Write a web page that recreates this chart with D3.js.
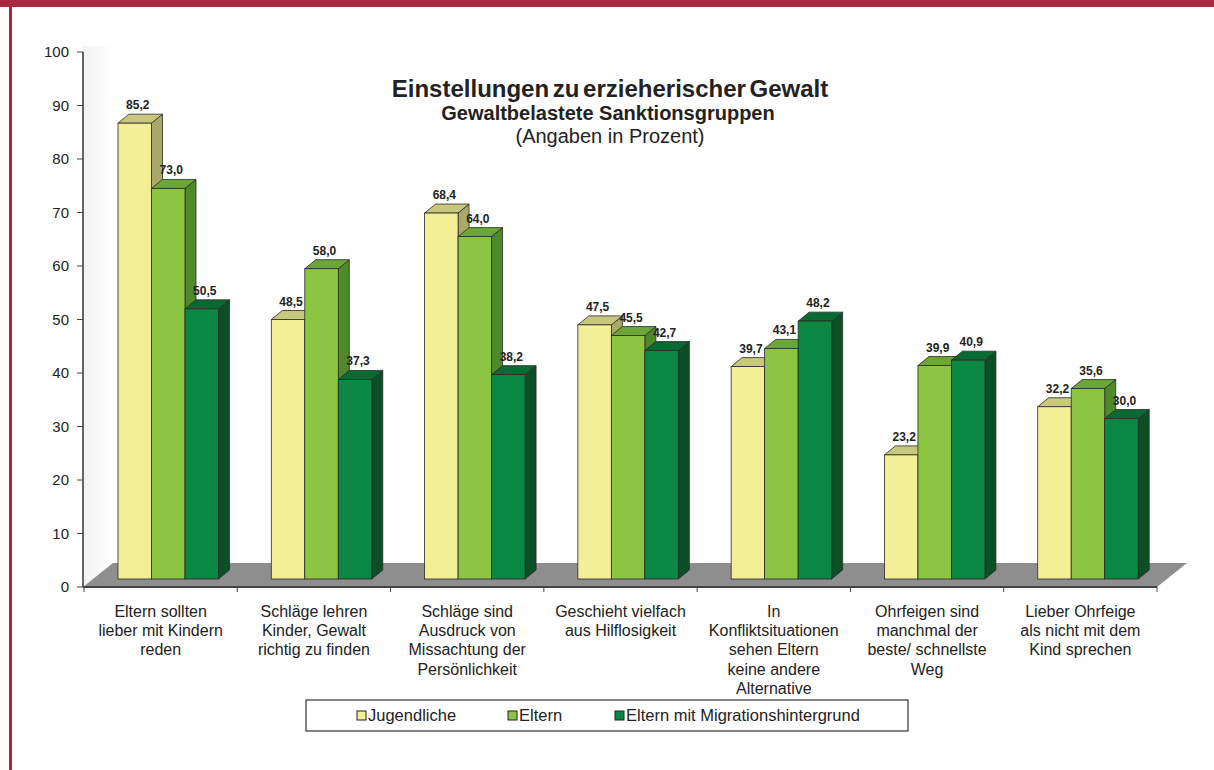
<!DOCTYPE html>
<html>
  <head>
    <meta charset="utf-8">
    <script src="https://cdn.jsdelivr.net/npm/d3@7"></script>
    <style>
      body { margin: 0; background: #fff; }
      text { font-family: "Liberation Sans", Arial, sans-serif; fill: #222; }
    </style>
  </head>
<body>
  <script type="text/javascript">
    // chart data
    var categories = [
      ["Eltern sollten", "lieber mit Kindern", "reden"],
      ["Schläge lehren", "Kinder, Gewalt", "richtig zu finden"],
      ["Schläge sind", "Ausdruck von", "Missachtung der", "Persönlichkeit"],
      ["Geschieht vielfach", "aus Hilflosigkeit"],
      ["In", "Konfliktsituationen", "sehen Eltern", "keine andere", "Alternative"],
      ["Ohrfeigen sind", "manchmal der", "beste/ schnellste", "Weg"],
      ["Lieber Ohrfeige", "als nicht mit dem", "Kind sprechen"]
    ];
    var seriesNames = ["Jugendliche", "Eltern", "Eltern mit Migrationshintergrund"];
    var jugendliche = [85.2, 48.5, 68.4, 47.5, 39.7, 23.2, 32.2];
    var eltern = [73.0, 58.0, 64.0, 45.5, 43.1, 39.9, 35.6];
    var migration = [50.5, 37.3, 38.2, 42.7, 48.2, 40.9, 30.0];
    var yTicks = [0, 10, 20, 30, 40, 50, 60, 70, 80, 90, 100];

    var seriesValues = [jugendliche, eltern, migration];
    // front, top, side
    var colors = [
      ["#f3ef97", "#c9c77e", "#a9a868"],
      ["#8cc541", "#6aa734", "#4f8a2a"],
      ["#0b8744", "#0a6a33", "#0b4f26"]
    ];

    var W = 1214, H = 770;
    var svg = d3.select("body").append("svg")
        .attr("width", W).attr("height", H);

    // frame
    svg.append("rect").attr("x", 0).attr("y", 0).attr("width", W).attr("height", 7).attr("fill", "#a52a40");
    svg.append("rect").attr("x", 9).attr("y", 0).attr("width", 3).attr("height", H).attr("fill", "#a52a40");

    var axisX = 83, y0 = 587;
    var y = d3.scaleLinear().domain([0, 100]).range([y0, 52]);
    var x0 = d3.scaleBand().domain(d3.range(categories.length)).range([84, 1157]);
    var x1 = d3.scaleBand().domain(d3.range(seriesNames.length)).range([34, 34 + 3 * 33.5]);
    var dx = 11, dy = -9, lift = 8;
    var floorDx = 30, floorDy = -24;

    // side wall (very faint)
    var grad = svg.append("defs").append("linearGradient").attr("id", "wall")
        .attr("x1", "0").attr("x2", "1").attr("y1", "0").attr("y2", "0");
    grad.append("stop").attr("offset", "0").attr("stop-color", "#f1f1f1");
    grad.append("stop").attr("offset", "1").attr("stop-color", "#ffffff");
    svg.append("path")
        .attr("d", "M" + axisX + "," + (y(100) - 6) + "L" + (axisX + floorDx) + "," + (y(100) - 6) +
          "L" + (axisX + floorDx) + "," + (y0 + floorDy) + "L" + axisX + "," + y0 + "Z")
        .attr("fill", "url(#wall)");

    // floor
    svg.append("path")
        .attr("d", "M" + axisX + "," + y0 + "L" + (axisX + floorDx) + "," + (y0 + floorDy) +
          "L" + (x0.range()[1] + floorDx) + "," + (y0 + floorDy) + "L" + x0.range()[1] + "," + y0 + "Z")
        .attr("fill", "#8e8e8e");

    // y axis
    svg.append("line").attr("x1", axisX).attr("x2", axisX).attr("y1", y(100)).attr("y2", y0)
        .attr("stroke", "#666").attr("stroke-width", 2);
    var yg = svg.append("g");
    yg.selectAll("line").data(yTicks).enter().append("line")
        .attr("x1", axisX - 6).attr("x2", axisX).attr("y1", function (d) { return y(d); })
        .attr("y2", function (d) { return y(d); }).attr("stroke", "#444");
    yg.selectAll("text").data(yTicks).enter().append("text")
        .attr("x", 69).attr("y", function (d) { return y(d) + 5; })
        .attr("text-anchor", "end").style("font-size", "15px").text(function (d) { return d; });

    // x axis
    svg.append("line").attr("x1", axisX).attr("x2", x0.range()[1]).attr("y1", y0).attr("y2", y0)
        .attr("stroke", "#444").attr("stroke-width", 2);
    svg.selectAll(".xtick").data(d3.range(categories.length + 1)).enter().append("line")
        .attr("x1", function (i) { return 84 + i * x0.step(); })
        .attr("x2", function (i) { return 84 + i * x0.step(); })
        .attr("y1", y0).attr("y2", y0 + 5).attr("stroke", "#444");

    // bars
    var fmt = function (v) { return d3.format(".1f")(v).replace(".", ","); };
    categories.forEach(function (cat, ci) {
      var g = svg.append("g");
      seriesValues.forEach(function (vals, si) {
        var v = vals[ci];
        var left = x0(ci) + x1(si), w = x1.bandwidth();
        var top = y(v) - lift, bottom = y0 - lift;
        var c = colors[si];
        // side
        g.append("path")
          .attr("d", "M" + (left + w) + "," + top + "L" + (left + w + dx) + "," + (top + dy) +
            "L" + (left + w + dx) + "," + (bottom + dy) + "L" + (left + w) + "," + bottom + "Z")
          .attr("fill", c[2]).attr("stroke", "#2a2a2a").attr("stroke-width", 0.8);
        // top
        g.append("path")
          .attr("d", "M" + left + "," + top + "L" + (left + dx) + "," + (top + dy) +
            "L" + (left + w + dx) + "," + (top + dy) + "L" + (left + w) + "," + top + "Z")
          .attr("fill", c[1]).attr("stroke", "#2a2a2a").attr("stroke-width", 0.8);
        // front
        g.append("rect").attr("x", left).attr("y", top).attr("width", w).attr("height", bottom - top)
          .attr("fill", c[0]).attr("stroke", "#2a2a2a").attr("stroke-width", 0.8);
        g.append("text").attr("x", left + w / 2 + 3).attr("y", top - 14)
          .attr("text-anchor", "middle").style("font-size", "12px").style("font-weight", "bold")
          .text(fmt(v));
      });
      // category label
      var t = svg.append("text").attr("x", x0(ci) + x0.bandwidth() / 2).attr("y", 617)
          .attr("text-anchor", "middle").style("font-size", "16px");
      cat.forEach(function (line, li) {
        t.append("tspan").attr("x", x0(ci) + x0.bandwidth() / 2).attr("dy", li === 0 ? 0 : 19.2).text(line);
      });
    });

    // title
    svg.append("text").attr("x", 610).attr("y", 97).attr("text-anchor", "middle")
        .style("font-size", "24px").style("font-weight", "bold").style("word-spacing", "-3px")
        .text("Einstellungen zu erzieherischer Gewalt");
    svg.append("text").attr("x", 608).attr("y", 120).attr("text-anchor", "middle")
        .style("font-size", "20px").style("font-weight", "bold")
        .text("Gewaltbelastete Sanktionsgruppen");
    svg.append("text").attr("x", 610).attr("y", 143).attr("text-anchor", "middle")
        .style("font-size", "20px").text("(Angaben in Prozent)");

    // legend
    var lg = svg.append("g");
    lg.append("rect").attr("x", 306).attr("y", 700).attr("width", 602).attr("height", 31)
        .attr("fill", "#fff").attr("stroke", "#333").attr("stroke-width", 1.2);
    var legX = [357, 508, 615];
    seriesNames.forEach(function (name, si) {
      lg.append("rect").attr("x", legX[si]).attr("y", 711).attr("width", 9).attr("height", 9)
        .attr("fill", colors[si][0]).attr("stroke", "#222");
      lg.append("text").attr("x", legX[si] + 11).attr("y", 721).style("font-size", "16.5px").text(name);
    });
  </script>
</body>
</html>
